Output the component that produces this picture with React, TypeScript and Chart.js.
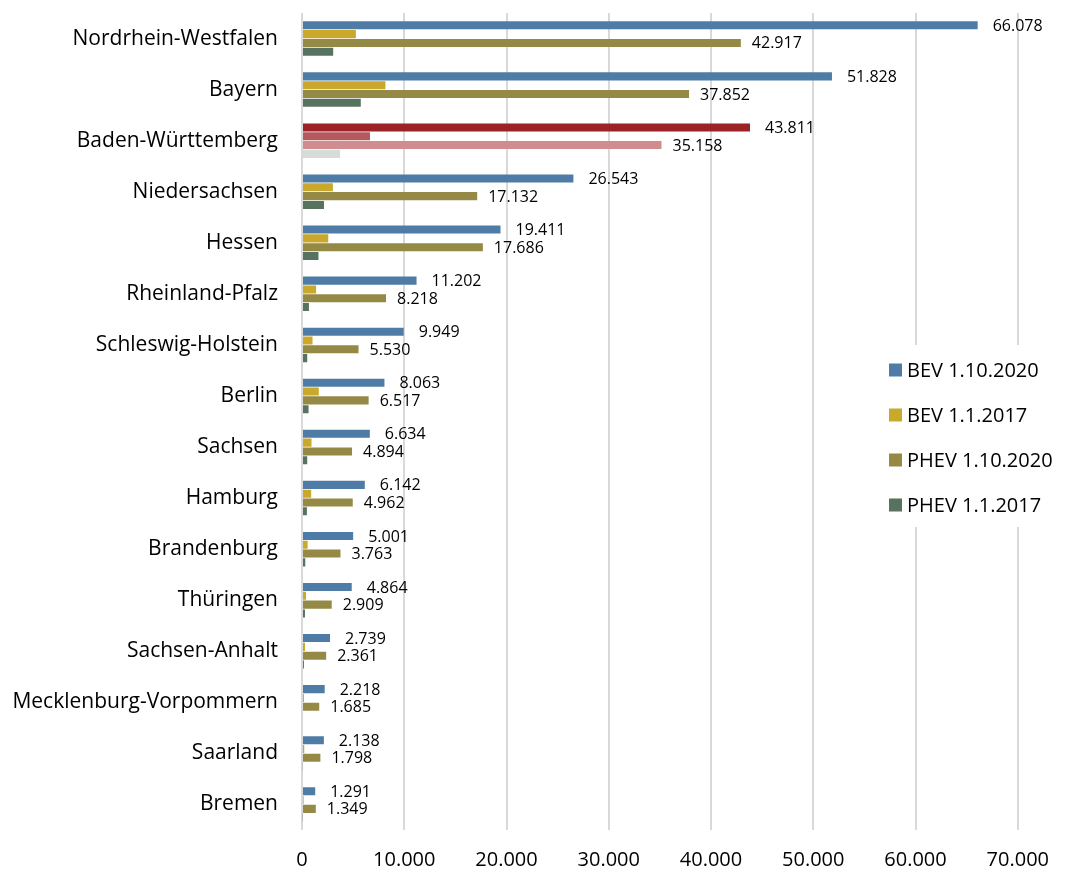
import React, { useEffect, useRef } from "react";
import { Chart, registerables } from "chart.js";

Chart.register(...registerables);

const categories = [
  "Nordrhein-Westfalen", "Bayern", "Baden-Württemberg", "Niedersachsen", "Hessen",
  "Rheinland-Pfalz", "Schleswig-Holstein", "Berlin", "Sachsen", "Hamburg",
  "Brandenburg", "Thüringen", "Sachsen-Anhalt", "Mecklenburg-Vorpommern", "Saarland", "Bremen",
];
const bev2020 = [66078, 51828, 43811, 26543, 19411, 11202, 9949, 8063, 6634, 6142, 5001, 4864, 2739, 2218, 2138, 1291];
const bev2017 = [5270, 8160, 6650, 3020, 2570, 1380, 1030, 1640, 930, 900, 550, 390, 290, 190, 220, 160];
const phev2020 = [42917, 37852, 35158, 17132, 17686, 8218, 5530, 6517, 4894, 4962, 3763, 2909, 2361, 1685, 1798, 1349];
const phev2017 = [3050, 5750, 3730, 2150, 1610, 680, 510, 640, 510, 480, 320, 290, 190, 100, 80, 70];
const seriesNames = ["BEV 1.10.2020", "BEV 1.1.2017", "PHEV 1.10.2020", "PHEV 1.1.2017"];
const xTicks = [0, 10000, 20000, 30000, 40000, 50000, 60000, 70000];

const baseColors = ["#4F7CA6", "#C9A82C", "#958A45", "#587260"];
const highlightColors = ["#9B2226", "#B55A5C", "#D08C8E", "#D6DCD8"];
const highlightIndex = 2;
const FONT = "'Open Sans', Lato, sans-serif";

function fmt(v: number): string {
  const s = Math.round(v).toString();
  return s.replace(/\B(?=(\d{3})+(?!\d))/g, ".");
}

function colorsFor(i: number) {
  return categories.map((_, k) => (k === highlightIndex ? highlightColors[i] : baseColors[i]));
}

const labelPlugin = {
  id: "valueLabels",
  afterDatasetsDraw(chart: any) {
    const ctx = chart.ctx;
    ctx.save();
    ctx.font = `16px ${FONT}`;
    ctx.fillStyle = "#000";
    ctx.textBaseline = "middle";
    ctx.textAlign = "left";
    [0, 2].forEach((di) => {
      const meta = chart.getDatasetMeta(di);
      const data = chart.data.datasets[di].data as number[];
      meta.data.forEach((el: any, k: number) => {
        const off = di === 0 ? 15 : 11;
        ctx.fillText(fmt(data[k]), el.x + off, el.y + 1);
      });
    });
    ctx.restore();
  },
};

const legendPlugin = {
  id: "boxLegend",
  afterDraw(chart: any) {
    const ctx = chart.ctx;
    ctx.save();
    ctx.fillStyle = "#fff";
    ctx.fillRect(876, 345, 188, 182);
    ctx.font = `20px ${FONT}`;
    ctx.textBaseline = "middle";
    ctx.textAlign = "left";
    seriesNames.forEach((name, i) => {
      const y = 370 + i * 45;
      ctx.fillStyle = baseColors[i];
      ctx.fillRect(889, y - 6.5, 13, 13);
      ctx.fillStyle = "#000";
      ctx.fillText(name, 907, y + 1);
    });
    ctx.restore();
  },
};

export default function App() {
  const ref = useRef<HTMLCanvasElement | null>(null);
  useEffect(() => {
    document.body.style.margin = "0";
    const series = [bev2020, bev2017, phev2020, phev2017];
    const chart = new Chart(ref.current as HTMLCanvasElement, {
      type: "bar",
      data: {
        labels: categories,
        datasets: series.map((d, i) => ({
          label: seriesNames[i],
          data: d,
          backgroundColor: colorsFor(i),
          borderWidth: 0,
          categoryPercentage: 0.69,
          barPercentage: 0.92,
        })),
      },
      options: {
        indexAxis: "y",
        animation: false,
        responsive: false,
        maintainAspectRatio: false,
        layout: { padding: { top: 13, right: 38, left: 0, bottom: 0 } },
        plugins: { legend: { display: false }, tooltip: { enabled: false } },
        scales: {
          x: {
            min: 0,
            max: 70000,
            afterBuildTicks: (s: any) => {
              s.ticks = xTicks.map((v) => ({ value: v }));
            },
            afterFit: (s: any) => {
              s.height = 43;
              s.paddingTop = 0;
              s.paddingBottom = 0;
            },
            grid: { color: "#D9D9D9", lineWidth: 2, drawTicks: false },
            border: { display: false },
            ticks: {
              color: "#000",
              font: { family: FONT, size: 20 },
              padding: 18,
              callback: (v: any) => fmt(Number(v)),
            },
          },
          y: {
            afterFit: (s: any) => {
              s.width = 302;
              s.paddingTop = 0;
              s.paddingBottom = 0;
            },
            grid: { display: false, drawTicks: false },
            border: { display: false },
            ticks: {
              color: "#000",
              font: { family: FONT, size: 21 },
              padding: 24,
            },
          },
        },
      },
      plugins: [labelPlugin, legendPlugin],
    } as any);
    return () => chart.destroy();
  }, []);
  return (
    <div style={{ width: 1067, height: 873 }}>
      <canvas ref={ref} width={1067} height={873} style={{ display: "block" }} />
    </div>
  );
}
